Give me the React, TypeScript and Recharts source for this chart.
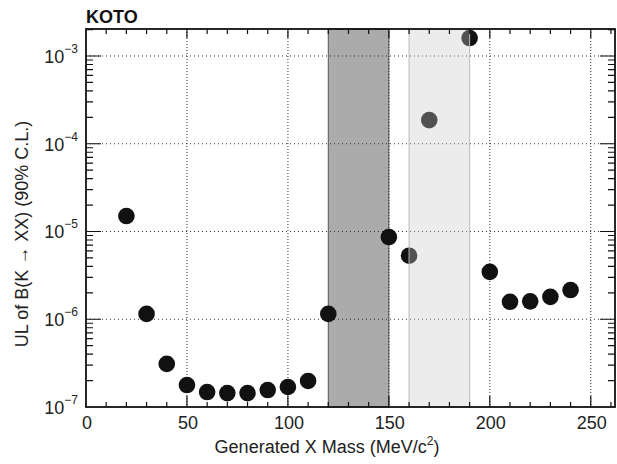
import React from "react";
import {
  ScatterChart,
  Scatter,
  XAxis,
  YAxis,
  ReferenceArea,
  ReferenceLine,
} from "recharts";

const masses = [20, 30, 40, 50, 60, 70, 80, 90, 100, 110, 120, 150, 160, 170, 190, 200, 210, 220, 230, 240];
const limits = [
  1.5e-5, 1.15e-6, 3.1e-7, 1.78e-7, 1.48e-7, 1.44e-7, 1.44e-7, 1.56e-7, 1.69e-7, 1.98e-7,
  1.15e-6, 8.65e-6, 5.3e-6, 1.86e-4, 1.6e-3, 3.47e-6, 1.58e-6, 1.6e-6, 1.8e-6, 2.15e-6,
];
const xTicks = [0, 10, 20, 30, 40, 50, 60, 70, 80, 90, 100, 110, 120, 130, 140, 150, 160, 170, 180, 190, 200, 210, 220, 230, 240, 250, 260];
const decades = [-7, -6, -5, -4, -3];
const shadedBands = [
  { x1: 120, x2: 150 },
  { x1: 160, x2: 190 },
];

const X_DOMAIN: [number, number] = [0, 262];
const Y_DOMAIN: [number, number] = [1e-7, 2.03e-3];

// plot frame (chart layout: margins + axis sizes)
const PLOT = { left: 86, top: 29, right: 615, bottom: 407 };

const data = masses.map((m, i) => ({ mass: m, ul: limits[i] }));

const yTicks: number[] = [];
decades.forEach((d) => {
  for (let k = 1; k <= 9; k++) {
    const v = k * Math.pow(10, d);
    if (v <= Y_DOMAIN[1]) yTicks.push(v);
  }
});

const FONT = "'Liberation Sans', Arial, Helvetica, sans-serif";

const isDecade = (v: number) => {
  const l = Math.log10(v);
  return Math.abs(l - Math.round(l)) < 1e-6;
};
const isMajorX = (v: number) => v % 50 === 0;

const sx = (v: number) =>
  PLOT.left + ((v - X_DOMAIN[0]) / (X_DOMAIN[1] - X_DOMAIN[0])) * (PLOT.right - PLOT.left);
const sy = (v: number) =>
  PLOT.bottom -
  ((Math.log10(v) - Math.log10(Y_DOMAIN[0])) / (Math.log10(Y_DOMAIN[1]) - Math.log10(Y_DOMAIN[0]))) *
    (PLOT.bottom - PLOT.top);

const BottomLabel = (props: any) => {
  const x = Number(props.x);
  const y = Number(props.y);
  const v = props.payload.value;
  if (!isMajorX(v)) return <g />;
  return (
    <text x={x + 1} y={y + 22} textAnchor="middle" fontSize={18} fontFamily={FONT} fill="#222">
      {v}
    </text>
  );
};

const LeftLabel = (props: any) => {
  const x = Number(props.x);
  const y = Number(props.y);
  const v = props.payload.value;
  if (!isDecade(v)) return <g />;
  const exp = Math.round(Math.log10(v));
  return (
    <text x={x - 8} y={y + 7} textAnchor="end" fontFamily={FONT} fill="#222">
      <tspan fontSize={18}>10</tspan>
      <tspan fontSize={12} dy={-10}>{"\u2212" + Math.abs(exp)}</tspan>
    </text>
  );
};

const xGrid = (p: any, v: number) => {
  const x = Number(p.x1);
  const top = Math.min(Number(p.y1), Number(p.y2));
  const bot = Math.max(Number(p.y1), Number(p.y2));
  return <path d={`M${x},${top}V${bot}`} stroke="#333" strokeWidth={1} strokeDasharray="1 2" fill="none" />;
};

const yGrid = (p: any, v: number) => {
  const y = Number(p.y1);
  const left = Math.min(Number(p.x1), Number(p.x2));
  const right = Math.max(Number(p.x1), Number(p.x2));
  return <path d={`M${left},${y}H${right}`} stroke="#333" strokeWidth={1} strokeDasharray="1 3" fill="none" />;
};

const Dot = (props: any) => {
  const { cx, cy } = props;
  return <circle cx={cx} cy={cy} r={8.3} fill="#111" />;
};

const FrameAndTicks = () => {
  const d: string[] = [];
  xTicks
    .filter((v) => v > X_DOMAIN[0])
    .forEach((v) => {
      const x = sx(v);
      const major = isMajorX(v);
      d.push(`M${x},${PLOT.bottom}V${PLOT.bottom - (major ? 11 : 5)}`);
      d.push(`M${x},${PLOT.top}V${PLOT.top + (major ? 9 : 5)}`);
    });
  yTicks
    .filter((v) => v > Y_DOMAIN[0] * 1.01)
    .forEach((v) => {
      const y = sy(v);
      const major = isDecade(v);
      d.push(`M${PLOT.left},${y}H${PLOT.left + (major ? 15 : 7)}`);
      d.push(`M${PLOT.right},${y}H${PLOT.right - (major ? 15 : 7)}`);
    });
  return (
    <svg
      width={617}
      height={464}
      style={{ position: "absolute", left: 0, top: 0, pointerEvents: "none", zIndex: 5 }}
    >
      <path d={d.join("")} stroke="#111" strokeWidth={1.2} fill="none" />
      <rect
        x={PLOT.left}
        y={PLOT.top}
        width={PLOT.right - PLOT.left}
        height={PLOT.bottom - PLOT.top}
        fill="none"
        stroke="#111"
        strokeWidth={1.8}
      />
    </svg>
  );
};

export default function App() {
  return (
    <div style={{ position: "absolute", left: 0, top: 0, width: 617, height: 464, background: "#fff" }}>
      <svg width={617} height={464} style={{ position: "absolute", left: 0, top: 0, pointerEvents: "none" }}>
        <text x={86} y={23} fontFamily={FONT} fontSize={18} fontWeight="bold" fill="#111">
          KOTO
        </text>
        <text x={327} y={453} textAnchor="middle" fontFamily={FONT} fontSize={18} fill="#222">
          Generated X Mass (MeV/c
          <tspan fontSize={12} dy={-8}>2</tspan>
          <tspan dy={8}>)</tspan>
        </text>
        <text
          x={28}
          y={234}
          transform="rotate(-90 28 234)"
          textAnchor="middle"
          fontFamily={FONT}
          fontSize={18}
          fill="#222"
        >
          UL of B(K {"\u2192"} XX) (90% C.L.)
        </text>
      </svg>
      <ScatterChart width={617} height={464} margin={{ top: 29, right: 2, bottom: 0, left: 0 }}>
        <ReferenceArea
          x1={shadedBands[0].x1}
          x2={shadedBands[0].x2}
          yAxisId="left"
          fill="#ababab"
          fillOpacity={1}
          stroke="#555"
          strokeWidth={1}
        />
        {xTicks
          .filter(isMajorX)
          .filter((v) => v > 0)
          .map((v) => (
            <ReferenceLine key={"vx" + v} x={v} yAxisId="left" stroke="none" shape={(p: any) => xGrid(p, v)} />
          ))}
        {yTicks
          .filter(isDecade)
          .filter((v) => v > Y_DOMAIN[0] * 1.01)
          .map((v) => (
            <ReferenceLine key={"hy" + v} y={v} yAxisId="left" stroke="none" shape={(p: any) => yGrid(p, v)} />
          ))}
        <XAxis
          type="number"
          dataKey="mass"
          domain={X_DOMAIN}
          ticks={xTicks}
          interval={0}
          allowDataOverflow
          height={57}
          tickSize={0}
          tickMargin={0}
          tickLine={false}
          tick={<BottomLabel />}
          axisLine={false}
        />
        <YAxis
          yAxisId="left"
          type="number"
          dataKey="ul"
          scale="log"
          domain={Y_DOMAIN}
          ticks={yTicks}
          interval={0}
          allowDataOverflow
          width={86}
          tickSize={0}
          tickMargin={0}
          tickLine={false}
          tick={<LeftLabel />}
          axisLine={false}
        />
        <Scatter data={data} yAxisId="left" shape={<Dot />} isAnimationActive={false} />
        <ReferenceArea
          x1={shadedBands[1].x1}
          x2={shadedBands[1].x2}
          yAxisId="left"
          fill="#c8c8c8"
          fillOpacity={0.35}
          stroke="#bbb"
          strokeWidth={1}
          {...({ zIndex: 700 } as any)}
        />
      </ScatterChart>
      <FrameAndTicks />
    </div>
  );
}
